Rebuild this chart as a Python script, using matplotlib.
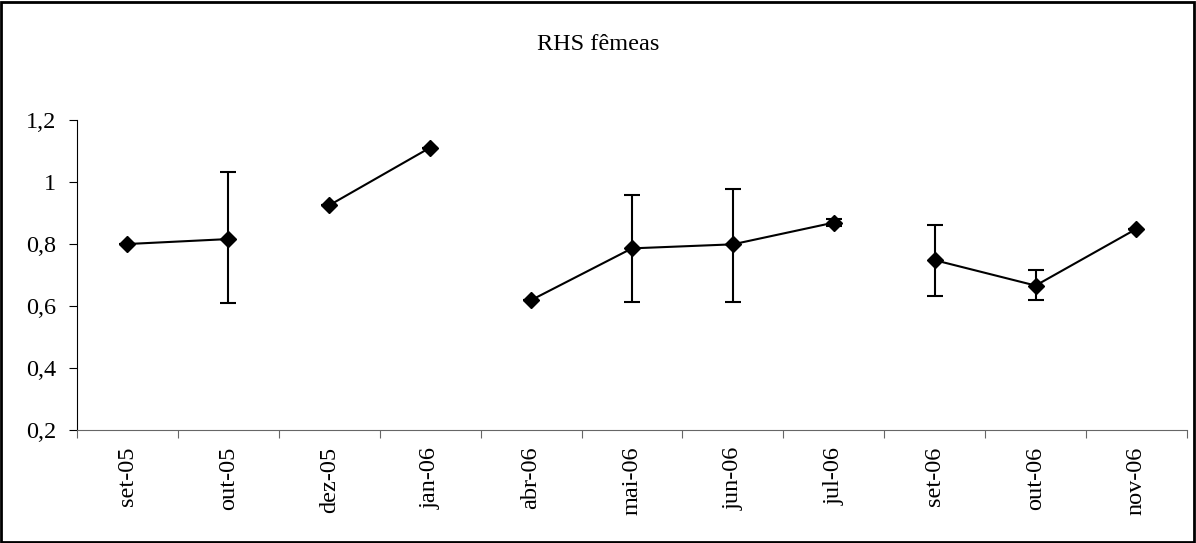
import numpy as np
import matplotlib; matplotlib.use('Agg')
import matplotlib.pyplot as plt
from matplotlib.patches import Rectangle

months = ['set-05', 'out-05', 'dez-05', 'jan-06', 'abr-06', 'mai-06',
          'jun-06', 'jul-06', 'set-06', 'out-06', 'nov-06']
rhs = [0.800, 0.816, 0.925, 1.111, 0.619, 0.786, 0.799, 0.869, 0.748, 0.666, 0.849]
err_up = [0.0, 0.217, 0.0, 0.0, 0.0, 0.171, 0.177, 0.013, 0.113, 0.049, 0.0]
err_dn = [0.0, 0.207, 0.0, 0.0, 0.0, 0.172, 0.185, 0.010, 0.115, 0.046, 0.0]
segment = [0, 0, 1, 1, 2, 2, 2, 2, 3, 3, 3]

plt.rcParams['font.family'] = ['Liberation Serif', 'DejaVu Serif']
fig = plt.figure(figsize=(11.96, 5.43), dpi=100)
ax = fig.add_axes([0.0644, 0.208, 0.928, 0.571])

x = np.arange(len(months))
y = np.array(rhs)
seg = np.array(segment)
for s in np.unique(seg):
    m = seg == s
    ax.plot(x[m], y[m], '-', color='black', lw=1.5, marker='D', ms=8, zorder=3)
ax.errorbar(x, y, yerr=[err_dn, err_up], fmt='none', ecolor='black',
            elinewidth=1.5, capsize=6, capthick=1.5, zorder=2)

ax.set_xlim(-0.5, len(months) - 0.5)
ax.set_ylim(0.2, 1.2)
ax.set_yticks(np.arange(0.2, 1.21, 0.2))
ax.set_yticklabels(['0,2', '0,4', '0,6', '0,8', '1', '1,2'], fontsize=17.5)
ax.set_xticks(np.arange(-0.5, len(months), 1.0))
ax.set_xticklabels([])
ax.set_xticks(x, minor=True)
ax.set_xticklabels(months, minor=True, rotation=90, fontsize=17.5)
ax.tick_params(axis='x', which='major', length=6, direction='out', color='#666666')
ax.tick_params(axis='x', which='minor', length=0, pad=12)
ax.tick_params(axis='y', length=6, direction='out', pad=9)
for sp in ['top', 'right']:
    ax.spines[sp].set_visible(False)
ax.spines['bottom'].set_color('#666666')
ax.spines['left'].set_color('black')

fig.text(0.5, 0.918, 'RHS fêmeas', ha='center', va='center', fontsize=17.5)
fig.patches.append(Rectangle((0.001, 0.002), 0.997, 0.995, transform=fig.transFigure,
                             fill=False, edgecolor='black', lw=2))

fig.savefig('out.png', dpi=100)
